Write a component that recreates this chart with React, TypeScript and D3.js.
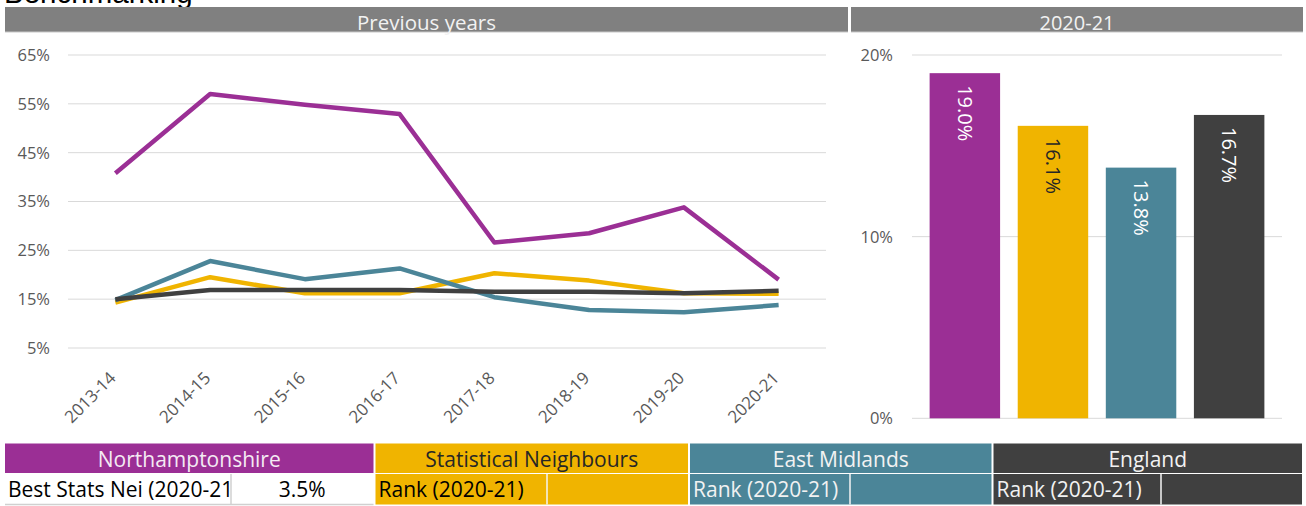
import React from "react";
import * as d3 from "d3";

const years = ["2013-14", "2014-15", "2015-16", "2016-17", "2017-18", "2018-19", "2019-20", "2020-21"];
const northants = [40.8, 57.0, 54.8, 52.9, 26.6, 28.5, 33.8, 19.0];
const statNeighbours = [14.3, 19.5, 16.2, 16.2, 20.3, 18.8, 16.2, 16.1];
const eastMidlands = [14.8, 22.8, 19.1, 21.3, 15.4, 12.8, 12.3, 13.8];
const england = [15.0, 16.9, 16.9, 16.9, 16.5, 16.5, 16.2, 16.7];

const regions = ["Northamptonshire", "Statistical Neighbours", "East Midlands", "England"];
const colors = ["#9B2F95", "#F0B400", "#4B8598", "#404040"];
const barValues = [19.0, 16.1, 13.8, 16.7];
const barLabels = ["19.0%", "16.1%", "13.8%", "16.7%"];
const barLabelColors = ["#FFFFFF", "#262626", "#FFFFFF", "#FFFFFF"];

const lineTicks = [5, 15, 25, 35, 45, 55, 65];
const barTicks = [0, 10, 20];

const row2Labels = ["Best Stats Nei (2020-21", "Rank (2020-21)", "Rank (2020-21)", "Rank (2020-21)"];
const row2Values = ["3.5%", "", "", ""];
const headerTitles = ["Previous years", "2020-21"];

const FONT = "'Open Sans', sans-serif";

export default function App() {
  const W = 1306;
  const H = 506;

  // Line chart scales
  const xLine = d3.scalePoint<string>().domain(years).range([68, 826]).padding(0.5);
  const yLine = d3.scaleLinear().domain([5, 65]).range([348, 55]);
  const series = [northants, statNeighbours, eastMidlands, england];
  const lineGen = d3
    .line<number>()
    .x((_, i) => xLine(years[i]) as number)
    .y((d) => yLine(d));

  // Bar chart scales
  const xBar = d3.scaleBand<string>().domain(regions).range([912, 1282]).paddingInner(0.2).paddingOuter(0.2);
  const yBar = d3.scaleLinear().domain([0, 20]).range([418.3, 55]);

  // Table layout
  const colEdges = [5, 374.5, 689, 992.5, 1303];
  const splits = [231, 547, 850, 1161];
  const row1Top = 443.5;
  const row1H = 29.5;
  const row2Top = 474;
  const row2H = 30.5;
  const row1Text = ["#F4EAF3", "#262626", "#F2F2F2", "#F2F2F2"];
  const row2Fill = ["#FFFFFF", colors[1], colors[2], colors[3]];
  const row2Text = ["#000000", "#000000", "#F2F2F2", "#F2F2F2"];

  return (
    <div style={{ position: "fixed", left: 0, top: 0 }}>
      <svg width={W} height={H} style={{ display: "block", background: "#FFFFFF" }}>
        <defs>
          {regions.map((_, i) => (
            <clipPath id={`clip-${i}`} key={i}>
              <rect x={colEdges[i]} y={row2Top} width={splits[i] - colEdges[i] - 1} height={row2H} />
            </clipPath>
          ))}
        </defs>

        {/* Title (partially hidden at top) */}
        <text x={4} y={3} fontFamily="'Liberation Sans', Arial, sans-serif" fontSize={29.5} fill="#000">
          Benchmarking
        </text>

        {/* Section headers */}
        <rect x={5} y={7} width={843} height={25} fill="#808080" />
        <rect x={851} y={7} width={452} height={25} fill="#808080" />
        <line x1={5} x2={848} y1={32} y2={32} stroke="#C8C8C8" strokeWidth={1} />
        <line x1={851} x2={1303} y1={32} y2={32} stroke="#C8C8C8" strokeWidth={1} />
        <text x={(5 + 848) / 2} y={30} textAnchor="middle" fontFamily={FONT} fontSize={20.5} fill="#F2F2F2">
          {headerTitles[0]}
        </text>
        <text x={(851 + 1303) / 2} y={30} textAnchor="middle" fontFamily={FONT} fontSize={20} fill="#F2F2F2">
          {headerTitles[1]}
        </text>

        {/* Line chart gridlines & ticks */}
        {lineTicks.map((t) => (
          <g key={`lt-${t}`}>
            <line x1={68} x2={826} y1={yLine(t)} y2={yLine(t)} stroke="#D9D9D9" strokeWidth={1} />
            <text x={50} y={yLine(t)} dy="0.36em" textAnchor="end" fontFamily={FONT} fontSize={16.5} fill="#595959">
              {`${t}%`}
            </text>
          </g>
        ))}
        {years.map((y) => (
          <text
            key={`xl-${y}`}
            transform={`translate(${(xLine(y) as number) + 1.5},379) rotate(-45)`}
            textAnchor="end"
            fontFamily={FONT}
            fontSize={17}
            fill="#595959"
          >
            {y}
          </text>
        ))}
        {series.map((s, i) => (
          <path
            key={`ln-${i}`}
            d={lineGen(s) || ""}
            fill="none"
            stroke={colors[i]}
            strokeWidth={4.5}
            strokeLinejoin="round"
          />
        ))}

        {/* Bar chart */}
        {barTicks.map((t) => (
          <g key={`bt-${t}`}>
            <line x1={912} x2={1282} y1={yBar(t)} y2={yBar(t)} stroke="#D9D9D9" strokeWidth={1} />
            <text x={893} y={yBar(t)} dy="0.36em" textAnchor="end" fontFamily={FONT} fontSize={16.5} fill="#595959">
              {`${t}%`}
            </text>
          </g>
        ))}
        {regions.map((r, i) => {
          const x = xBar(r) as number;
          const top = yBar(barValues[i]);
          return (
            <g key={`bar-${i}`}>
              <rect x={x} y={top} width={xBar.bandwidth()} height={yBar(0) - top} fill={colors[i]} />
              <text
                transform={`translate(${x + xBar.bandwidth() / 2},${top + 12}) rotate(90)`}
                dy="0.36em"
                textAnchor="start"
                fontFamily={FONT}
                fontSize={20}
                fill={barLabelColors[i]}
              >
                {barLabels[i]}
              </text>
            </g>
          );
        })}

        {/* Table */}
        {regions.map((r, i) => {
          const x0 = colEdges[i] + (i === 0 ? 0 : 1);
          const x1 = colEdges[i + 1] - 1;
          return (
            <g key={`tbl-${i}`}>
              <rect x={x0} y={row1Top} width={x1 - x0} height={row1H} fill={colors[i]} />
              <text
                x={(x0 + x1) / 2}
                y={467}
                textAnchor="middle"
                fontFamily={FONT}
                fontSize={21}
                fill={row1Text[i]}
              >
                {r}
              </text>
              <rect x={x0} y={row2Top} width={x1 - x0} height={row2H} fill={row2Fill[i]} />
              <line x1={splits[i]} x2={splits[i]} y1={row2Top} y2={row2Top + row2H} stroke={i === 0 ? "#D0D0D0" : "#F4F4F4"} strokeWidth={1.5} />
              {i === 0 && (
                <line x1={x0} x2={x1} y1={row2Top + row2H} y2={row2Top + row2H} stroke="#D0D0D0" strokeWidth={1.5} />
              )}
              <text
                x={x0 + 3}
                y={497}
                clipPath={`url(#clip-${i})`}
                fontFamily={FONT}
                fontSize={21}
                fill={row2Text[i]}
              >
                {row2Labels[i]}
              </text>
              {row2Values[i] && (
                <text
                  x={(splits[i] + x1) / 2}
                  y={497}
                  textAnchor="middle"
                  fontFamily={FONT}
                  fontSize={21}
                  fill={row2Text[i]}
                >
                  {row2Values[i]}
                </text>
              )}
            </g>
          );
        })}
      </svg>
    </div>
  );
}
